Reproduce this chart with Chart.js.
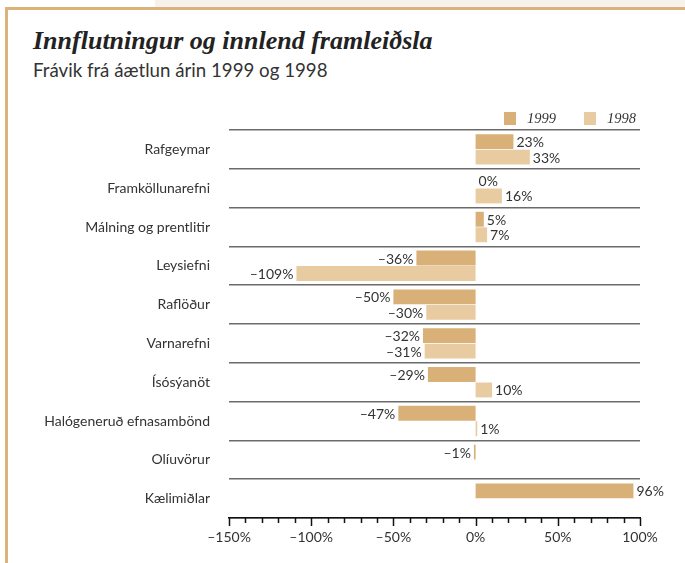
<!DOCTYPE html>
<html>
<head>
<meta charset="utf-8">
<script src="https://cdn.jsdelivr.net/npm/chart.js@4"></script>
<style>
  html, body { margin: 0; padding: 0; background: #fff; }
  #wrap { position: relative; width: 685px; height: 563px; overflow: hidden; }
  #cream { position: absolute; left: 155px; top: 0; width: 530px; height: 7px; background: #f7f2eb; }
  #frame { position: absolute; left: 5px; top: 7px; width: 690px; height: 570px;
           border-top: 3px solid #dcb27a; border-left: 3px solid #dcb27a; }
  #title { position: absolute; left: 33px; top: 26px; margin: 0;
           font: italic bold 26px "Liberation Serif", serif; color: #222; }
  #subtitle { position: absolute; left: 33px; top: 59px; margin: 0;
              font: 18.7px Lato, sans-serif; color: #333; }
  canvas { position: absolute; left: 0; top: 0; }
</style>
</head>
<body>
<div id="wrap">
  <div id="cream"></div>
  <div id="frame"></div>
  <div id="title">Innflutningur og innlend framleiðsla</div>
  <div id="subtitle">Frávik frá áætlun árin 1999 og 1998</div>
  <canvas id="chart" width="685" height="563"></canvas>
</div>
<script>
var categories = ["Rafgeymar", "Framköllunarefni", "Málning og prentlitir", "Leysiefni", "Raflöður",
                  "Varnarefni", "Ísósýanöt", "Halógeneruð efnasambönd", "Olíuvörur", "Kælimiðlar"];
var values1999 = [23, 0, 5, -36, -50, -32, -29, -47, -1, 96];
var values1998 = [33, 16, 7, -109, -30, -31, 10, 1, null, null];
var tickValues = [-150, -100, -50, 0, 50, 100];

var color1999 = "#d9b077";
var color1998 = "#e9cba2";

function pct(v) {
    return (v < 0 ? "\u2013" + Math.abs(v) : v) + "%";
}

// value labels next to bar ends
var valueLabels = {
    id: "valueLabels",
    afterDatasetsDraw: function (chart) {
        var c = chart.ctx;
        c.save();
        c.font = "14px Lato";
        c.fillStyle = "#333";
        c.textBaseline = "middle";
        chart.data.datasets.forEach(function (ds, i) {
            chart.getDatasetMeta(i).data.forEach(function (bar, j) {
                var v = ds.data[j];
                if (v === null) return;
                if (v < 0) {
                    c.textAlign = "right";
                    c.fillText(pct(v), bar.x - 3, bar.y + 1);
                } else {
                    c.textAlign = "left";
                    c.fillText(pct(v), bar.x + 3, bar.y + 1);
                }
            });
        });
        c.restore();
    }
};

// major/minor tick marks under the x axis
var tickMarks = {
    id: "tickMarks",
    afterDraw: function (chart) {
        var c = chart.ctx;
        var sc = chart.scales.x;
        var y0 = chart.chartArea.bottom;
        c.save();
        c.strokeStyle = "#111";
        c.lineWidth = 1.5;
        for (var v = sc.min; v <= sc.max; v += 10) {
            var x = Math.round(sc.getPixelForValue(v)) + 0.5;
            c.beginPath();
            c.moveTo(x, y0);
            c.lineTo(x, y0 + (v % 50 === 0 ? 8 : 5));
            c.stroke();
        }
        c.restore();
    }
};

// legend at top right
var legendBoxes = {
    id: "legendBoxes",
    afterDraw: function (chart) {
        var c = chart.ctx;
        c.save();
        c.font = "italic 14.5px 'Liberation Serif'";
        c.textBaseline = "middle";
        c.textAlign = "left";
        var items = [[504, chart.data.datasets[0]], [584, chart.data.datasets[1]]];
        items.forEach(function (it) {
            c.fillStyle = it[1].backgroundColor;
            c.fillRect(it[0], 112, 12, 13);
            c.fillStyle = "#333";
            c.fillText(it[1].label, it[0] + 23, 119);
        });
        c.restore();
    }
};

new Chart(document.getElementById("chart"), {
    type: "bar",
    data: {
        labels: categories,
        datasets: [
            { label: "1999", data: values1999, backgroundColor: color1999 },
            { label: "1998", data: values1998, backgroundColor: color1998 }
        ]
    },
    options: {
        indexAxis: "y",
        responsive: false,
        animation: false,
        categoryPercentage: 0.8,
        barPercentage: 0.96,
        layout: { padding: { top: 130, right: 45, left: 0, bottom: 0 } },
        plugins: {
            legend: { display: false },
            tooltip: { enabled: false }
        },
        scales: {
            x: {
                min: -150,
                max: 100,
                afterFit: function (s) { s.height = 45; },
                grid: { display: false, drawTicks: false },
                border: { display: true, color: "#111", width: 1.5 },
                ticks: {
                    stepSize: 50,
                    padding: 11,
                    color: "#333",
                    font: { family: "Lato", size: 14 },
                    callback: function (v) { return tickValues.indexOf(v) >= 0 ? pct(v) : ""; }
                }
            },
            y: {
                afterFit: function (s) { s.width = 229; },
                grid: { offset: true, color: "#6b6b6b", lineWidth: 1.5, drawTicks: false },
                border: { display: false },
                ticks: {
                    padding: 19,
                    color: "#333",
                    font: { family: "Lato", size: 14 }
                }
            }
        }
    },
    plugins: [valueLabels, tickMarks, legendBoxes]
});
</script>
</body>
</html>
